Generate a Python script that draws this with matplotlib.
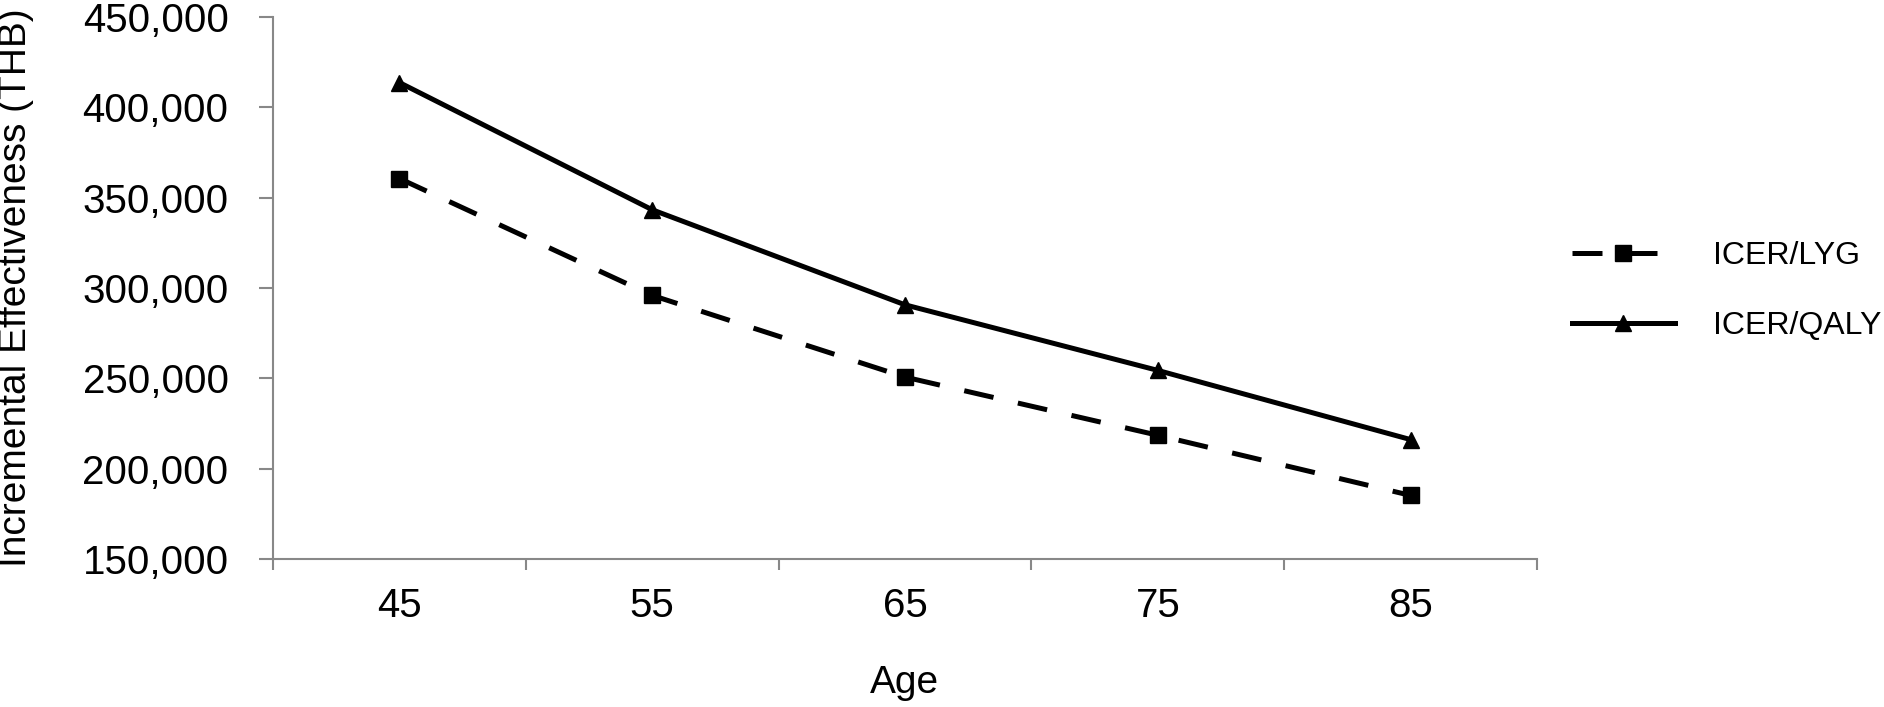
import matplotlib.pyplot as plt
from matplotlib.ticker import FuncFormatter

# ======================
# data
# ======================
ages = ["45", "55", "65", "75", "85"]
icer_lyg = [360600, 295900, 250700, 218500, 185200]
icer_qaly = [413700, 343300, 290700, 254400, 216100]

plt.rcParams["font.family"] = ["Liberation Sans", "DejaVu Sans"]

fig = plt.figure(figsize=(18.84, 7.07), dpi=100)
ax = fig.add_axes([0.1449, 0.2093, 0.6709, 0.7667])

x = list(range(len(ages)))
ax.plot(x, icer_lyg, color="black", lw=3.6, ls=(0, (6, 5)),
        marker="s", markersize=11, label="ICER/LYG")
ax.plot(x, icer_qaly, color="black", lw=3.6, ls="-",
        marker="^", markersize=12, label="ICER/QALY")

ax.set_xlim(-0.5, len(ages) - 0.5)
ax.set_ylim(150000, 450000)
ax.set_yticks(range(150000, 450001, 50000))
ax.yaxis.set_major_formatter(FuncFormatter(lambda v, p: f"{int(v):,}"))

# category axis: ticks between categories, labels centred
ax.set_xticks([i - 0.5 for i in range(len(ages) + 1)])
ax.set_xticklabels([])
ax.set_xticks(x, minor=True)
ax.set_xticklabels(ages, minor=True)
ax.tick_params(axis="x", which="minor", length=0, pad=20, labelsize=29)
ax.tick_params(axis="x", which="major", length=8, width=1.5, color="#888888")
ax.tick_params(axis="y", length=10, width=1.5, color="#888888", labelsize=29, pad=22)

for s in ["top", "right"]:
    ax.spines[s].set_visible(False)
for s in ["left", "bottom"]:
    ax.spines[s].set_color("#888888")
    ax.spines[s].set_linewidth(1.5)

ax.set_xlabel("Age", fontsize=28)
ax.set_ylabel("Incremental Effectiveness (THB)", fontsize=28)
ax.yaxis.set_label_coords(-0.189, 0.5)
ax.xaxis.set_label_coords(0.5, -0.196)

leg = ax.legend(loc="center left", bbox_to_anchor=(1.028, 0.494), frameon=False,
                borderaxespad=0, borderpad=0,
                fontsize=23, handlelength=3.2, handletextpad=1.2, labelspacing=1.25)

fig.savefig("out.png", dpi=100)
plt.close(fig)
